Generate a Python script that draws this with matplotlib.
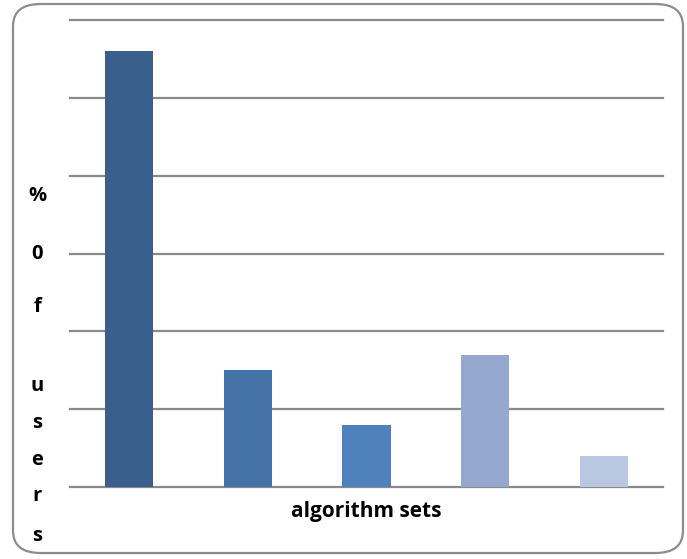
import matplotlib.pyplot as plt
from matplotlib.patches import FancyBboxPatch

# percentage of users for each algorithm set
algorithm_sets = ['set 1', 'set 2', 'set 3', 'set 4', 'set 5']
pct_users = [56, 15, 8, 17, 4]
bar_colors = ['#3A5F8C', '#4572A7', '#4F81BD', '#95A9CF', '#BAC7E0']
y_ticks = [0, 10, 20, 30, 40, 50, 60]

fig = plt.figure(figsize=(6.87, 5.59), dpi=100)
W, H = 687, 559

# rounded chart border
frame = FancyBboxPatch((13 / W, 6 / H), 670 / W, 549 / H,
                       boxstyle='round,pad=0,rounding_size=0.04',
                       transform=fig.transFigure, facecolor='none',
                       edgecolor='#8C8C8C', linewidth=1.6, zorder=0)
fig.patches.append(frame)

ax = fig.add_axes([70 / W, 1 - 487 / H, 593 / W, (487 - 20) / H])
ax.set_zorder(2)
ax.set_facecolor('none')
ax.bar(range(len(pct_users)), pct_users, width=0.405, color=bar_colors, zorder=3)

ax.set_xlim(-0.5, len(pct_users) - 0.5)
ax.set_ylim(0, 60)
ax.set_yticks(y_ticks)
ax.yaxis.grid(True, color='#8A8A8A', linewidth=1.6, zorder=0)
ax.set_axisbelow(True)
for line in ax.get_ygridlines():
    line.set_clip_on(False)
ax.tick_params(left=False, bottom=False, labelleft=False, labelbottom=False)
for s in ax.spines.values():
    s.set_visible(False)

font = ['Open Sans', 'DejaVu Sans']
ax.set_xlabel('algorithm sets', fontsize=15, fontweight='bold',
              family=font, labelpad=10)

# vertical stacked y label
letters = ['%', '0', 'f', 'u', 's', 'e', 'r', 's']
letter_y = [196, 254, 307, 386, 423, 460, 496, 536]
for ch, y in zip(letters, letter_y):
    fig.text(37 / W, 1 - y / H, ch, ha='center', va='center', fontsize=14.5,
             fontweight='bold', family=font)

fig.savefig('out.png', dpi=100)
